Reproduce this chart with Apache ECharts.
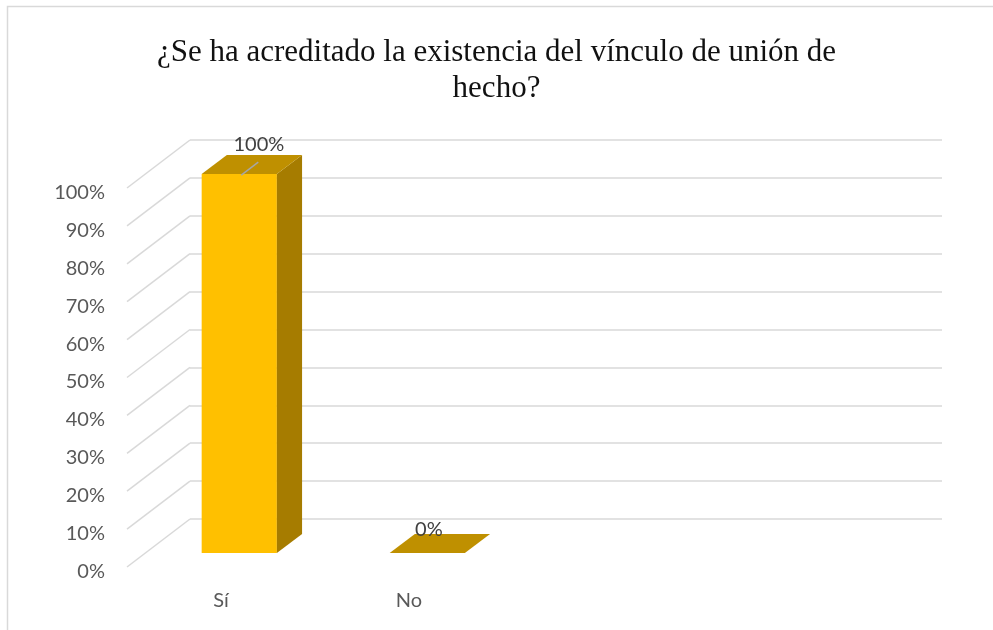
<!DOCTYPE html>
<html><head><meta charset="utf-8">
<script src="https://cdn.jsdelivr.net/npm/echarts@6/dist/echarts.min.js"></script>
<style>html,body{margin:0;padding:0;background:#fff}#c{width:993px;height:630px}</style>
</head><body><div id="c"></div>
<script>
const TITLE = '¿Se ha acreditado la existencia del vínculo de unión de\nhecho?';
const categories = ['Sí', 'No', '', ''];
const values = [1, 0];
const valueLabels = ['100%', '0%'];
const ticks = [0, 0.1, 0.2, 0.3, 0.4, 0.5, 0.6, 0.7, 0.8, 0.9, 1];

const DX = 63, DY = -48;      // depth offset of the 3D floor
const BAR_OFF = 0.29;          // bar front face depth position
const BAR_DEPTH = 0.4;         // bar depth fraction
const BAR_W = 0.4;             // bar width as fraction of band
const FONT = 'Lato, "Open Sans", sans-serif';

const chart = echarts.init(document.getElementById('c'));
chart.setOption({
  animation: false,
  backgroundColor: '#fff',
  title: {
    text: TITLE, left: 'center', top: 30,
    textStyle: {fontFamily: '"Liberation Serif", "Times New Roman", serif', fontSize: 31, fontWeight: 'normal', color: '#111', lineHeight: 36}
  },
  graphic: [{type: 'rect', shape: {x: 7.5, y: 6.5, width: 1200, height: 800}, style: {fill: 'none', stroke: '#d9d9d9', lineWidth: 1.5}, silent: true}],
  grid: [
    {left: 190, right: 51, top: 140, bottom: 111},
    {left: 127, right: 114, top: 188, bottom: 63}
  ],
  xAxis: [
    {gridIndex: 0, type: 'category', data: categories, show: false},
    {gridIndex: 1, type: 'category', data: categories, axisLine: {show: false}, axisTick: {show: false},
     axisLabel: {margin: 24, fontSize: 20, color: '#595959', fontFamily: FONT}}
  ],
  yAxis: [
    {gridIndex: 0, type: 'value', min: 0, max: 1, interval: 0.1, axisLabel: {show: false}, axisLine: {show: false}, axisTick: {show: false},
     splitLine: {lineStyle: {color: '#d9d9d9', width: 1.5}}},
    {gridIndex: 1, type: 'value', min: 0, max: 1, interval: 0.1, splitLine: {show: false}, axisLine: {show: false}, axisTick: {show: false},
     axisLabel: {margin: 22, fontSize: 20, color: '#595959', fontFamily: FONT, verticalAlign: 'top', lineHeight: 9,
                 formatter: v => Math.round(v * 100) + '%'}}
  ],
  series: [
    {
      type: 'custom', xAxisIndex: 1, yAxisIndex: 1, silent: true,
      data: ticks.map(t => [0, t]),
      renderItem: (params, api) => {
        const p = api.coord([0, api.value(1)]);
        const x0 = p[0] - api.size([1, 0])[0] / 2;
        return {type: 'line', shape: {x1: x0, y1: p[1], x2: x0 + DX, y2: p[1] + DY},
                style: {stroke: '#d9d9d9', lineWidth: 1.5}};
      }
    },
    {
      type: 'custom', xAxisIndex: 1, yAxisIndex: 1, silent: true,
      data: values.map((v, i) => [i, v]),
      renderItem: (params, api) => {
        const i = api.value(0), v = api.value(1);
        const base = api.coord([i, 0]);
        const top = api.coord([i, v]);
        const band = api.size([1, 0])[0];
        const w = band * BAR_W;
        const ox = BAR_OFF * DX, oy = BAR_OFF * DY;
        const dx = BAR_DEPTH * DX, dy = BAR_DEPTH * DY;
        const cx = base[0] + ox;
        const xl = cx - w / 2, xr = cx + w / 2;
        const yb = base[1] + oy, yt = top[1] + oy;
        const children = [];
        if (yb - yt > 0.5) {
          children.push({type: 'rect', shape: {x: xl, y: yt, width: w, height: yb - yt}, style: {fill: '#FFC000'}});
          children.push({type: 'polygon', shape: {points: [[xr, yt], [xr + dx, yt + dy], [xr + dx, yb + dy], [xr, yb]]}, style: {fill: '#A67C00'}});
        }
        children.push({type: 'polygon', shape: {points: [[xl, yt], [xl + dx, yt + dy], [xr + dx, yt + dy], [xr, yt]]}, style: {fill: '#BF9000'}});
        const tcx = cx + dx / 2, tcy = yt + dy / 2;
        let lx = tcx - 11, ly = tcy - 14;
        if (v > 0) {
          lx = tcx + 7; ly = tcy - 20;
          children.push({type: 'line', shape: {x1: cx + 2, y1: yt + 1, x2: cx + 19, y2: yt - 12}, style: {stroke: '#a6a6a6', lineWidth: 1.5}});
        }
        children.push({type: 'text', style: {text: valueLabels[i], x: lx, y: ly, align: 'center', verticalAlign: 'middle',
          font: '20px ' + FONT, fill: '#404040'}});
        return {type: 'group', children};
      }
    }
  ]
});
</script></body></html>
